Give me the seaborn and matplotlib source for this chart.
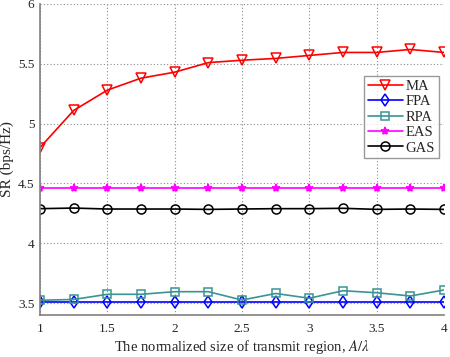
import numpy as np
import pandas as pd
import matplotlib
matplotlib.use("Agg")
import matplotlib.pyplot as plt
import seaborn as sns

x_vals = [1, 1.25, 1.5, 1.75, 2, 2.25, 2.5, 2.75, 3, 3.25, 3.5, 3.75, 4]
ma = [4.80, 5.11, 5.28, 5.38, 5.43, 5.51, 5.53, 5.545, 5.57, 5.595, 5.595, 5.62, 5.595]
fpa = [3.505] * 13
rpa = [3.523, 3.53, 3.573, 3.573, 3.595, 3.595, 3.525, 3.58, 3.54, 3.603, 3.586, 3.559, 3.609]
eas = [4.458] * 13
gas = [4.289, 4.294, 4.286, 4.286, 4.286, 4.283, 4.286, 4.289, 4.289, 4.292, 4.283, 4.286, 4.283]
series_names = ["MA", "FPA", "RPA", "EAS", "GAS"]
x_ticks = [1, 1.5, 2, 2.5, 3, 3.5, 4]
x_tick_labels = ["1", "1.5", "2", "2.5", "3", "3.5", "4"]
y_ticks = [3.5, 4, 4.5, 5, 5.5, 6]
y_tick_labels = ["3.5", "4", "4.5", "5", "5.5", "6"]

sns.set_style("white")
plt.rcParams["font.family"] = ["Liberation Serif", "DejaVu Serif"]
plt.rcParams["mathtext.fontset"] = "stix"

df = pd.DataFrame({"x": x_vals * 5,
                   "SR": ma + fpa + rpa + eas + gas,
                   "Scheme": sum([[n] * len(x_vals) for n in series_names], [])})

colors = {"MA": "#ff0000", "FPA": "#0000ff", "RPA": "#3a9494", "EAS": "#ff00ff", "GAS": "#000000"}
markers = {"MA": "v", "FPA": "d", "RPA": "s", "EAS": "*", "GAS": "o"}
msizes = {"MA": 7, "FPA": 6.5, "RPA": 6, "EAS": 6, "GAS": 6.5}

fig = plt.figure(figsize=(4.5, 3.57), dpi=100)
ax = fig.add_axes([40/450, 42/357, 404/450, 311/357])

for name in series_names:
    sub = df[df["Scheme"] == name]
    mfc = colors[name] if name == "EAS" else "none"
    sns.lineplot(data=sub, x="x", y="SR", ax=ax, color=colors[name], marker=markers[name],
                 markersize=msizes[name], markerfacecolor=mfc,
                 markeredgecolor=colors[name], markeredgewidth=1.1, linewidth=1.2,
                 label=name)

ax.set_xlim(1, 4)
ax.set_ylim(3.4, 6)
ax.set_xticks(x_ticks)
ax.set_xticklabels(x_tick_labels)
ax.set_yticks(y_ticks)
ax.set_yticklabels(y_tick_labels)
ax.grid(True, linestyle=(0, (1, 2)), color="#8c8c8c", linewidth=0.8)
for s in ["top", "right"]:
    ax.spines[s].set_visible(False)
for s in ["left", "bottom"]:
    ax.spines[s].set_color("#808080")
    ax.spines[s].set_linewidth(1.2)
ax.tick_params(axis="both", direction="in", length=4, labelsize=9.5, color="#808080")
ax.tick_params(axis="x", pad=6)
ax.tick_params(axis="y", pad=4)
ax.set_xlabel("The normalized size of transmit region, $\\mathit{A}/\\lambda$", fontsize=10.5, labelpad=2)
ax.set_ylabel("SR (bps/Hz)", fontsize=11, labelpad=3)

leg = ax.legend(loc="upper right", bbox_to_anchor=(0.9876, 0.768), fontsize=10.5, frameon=True,
                fancybox=False, edgecolor="#808080", handlelength=2.4, handletextpad=0.2,
                borderpad=0.25, labelspacing=0.15, borderaxespad=0)
leg.get_frame().set_linewidth(1.0)

fig.savefig("out.png", dpi=100)
